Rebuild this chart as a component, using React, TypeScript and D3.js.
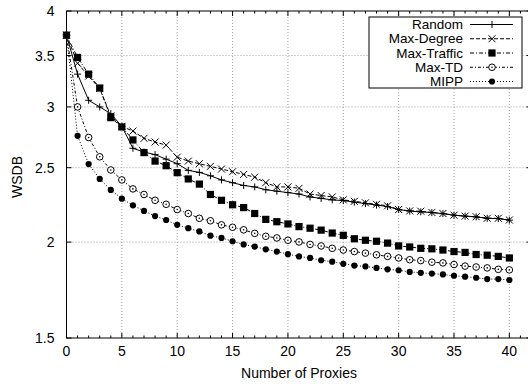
import React from "react";
import * as d3 from "d3";

const proxies = [0,1,2,3,4,5,6,7,8,9,10,11,12,13,14,15,16,17,18,19,20,21,22,23,24,25,26,27,28,29,30,31,32,33,34,35,36,37,38,39,40];

const random = [3.72, 3.31, 3.06, 3.00, 2.94, 2.83, 2.65, 2.62, 2.60, 2.565, 2.53, 2.48, 2.465, 2.44, 2.41, 2.39, 2.37, 2.36, 2.34, 2.33, 2.32, 2.31, 2.29, 2.28, 2.27, 2.265, 2.255, 2.245, 2.235, 2.225, 2.205, 2.195, 2.19, 2.185, 2.178, 2.168, 2.162, 2.157, 2.148, 2.146, 2.136];
const maxDegree = [3.72, 3.42, 3.29, 3.17, 2.92, 2.83, 2.79, 2.73, 2.70, 2.675, 2.58, 2.55, 2.53, 2.51, 2.49, 2.47, 2.45, 2.43, 2.39, 2.36, 2.36, 2.35, 2.31, 2.30, 2.29, 2.27, 2.26, 2.25, 2.24, 2.23, 2.205, 2.196, 2.194, 2.186, 2.179, 2.168, 2.162, 2.158, 2.148, 2.148, 2.137];
const maxTraffic = [3.72, 3.48, 3.31, 3.175, 2.905, 2.825, 2.717, 2.616, 2.55, 2.515, 2.463, 2.417, 2.38, 2.307, 2.267, 2.237, 2.218, 2.179, 2.141, 2.126, 2.112, 2.095, 2.085, 2.073, 2.055, 2.041, 2.02, 2.011, 2.005, 1.994, 1.977, 1.971, 1.963, 1.960, 1.953, 1.944, 1.939, 1.927, 1.923, 1.916, 1.907];
const maxTD = [3.72, 3.00, 2.737, 2.583, 2.483, 2.41, 2.346, 2.307, 2.267, 2.24, 2.205, 2.179, 2.148, 2.132, 2.106, 2.091, 2.075, 2.053, 2.035, 2.025, 2.011, 2.001, 1.986, 1.977, 1.963, 1.953, 1.944, 1.935, 1.925, 1.916, 1.907, 1.897, 1.892, 1.883, 1.879, 1.870, 1.861, 1.856, 1.851, 1.843, 1.840];
const mipp = [3.72, 2.751, 2.527, 2.417, 2.339, 2.278, 2.233, 2.196, 2.162, 2.137, 2.106, 2.085, 2.065, 2.039, 2.025, 2.005, 1.986, 1.973, 1.957, 1.944, 1.929, 1.916, 1.907, 1.894, 1.886, 1.874, 1.864, 1.859, 1.851, 1.843, 1.838, 1.829, 1.824, 1.820, 1.815, 1.808, 1.803, 1.797, 1.790, 1.790, 1.785];

const seriesNames = ["Random", "Max-Degree", "Max-Traffic", "Max-TD", "MIPP"];
const seriesValues = [random, maxDegree, maxTraffic, maxTD, mipp];
const xTicks = [0, 5, 10, 15, 20, 25, 30, 35, 40];
const yTicks = [1.5, 2, 2.5, 3, 3.5, 4];
const xLabel = "Number of Proxies";
const yLabel = "WSDB";

const dashes = ["none", "4,2", "4,2,1,2", "3,2,1,2", "1,2"];
const markerTypes = ["plus", "cross", "square", "circleOpen", "circleFilled"];

const W = 528, H = 386;
const left = 66.5, right = 531.5, top = 11, bottom = 338;
const FONT = "'Liberation Sans', Arial, Helvetica, sans-serif";

function Marker({ type, cx, cy }: { type: string; cx: number; cy: number }) {
  const s = 3.5;
  switch (type) {
    case "plus":
      return <path d={`M${cx - s},${cy}H${cx + s}M${cx},${cy - s}V${cy + s}`} stroke="#000" strokeWidth={1} fill="none" />;
    case "cross":
      return <path d={`M${cx - s},${cy - s}L${cx + s},${cy + s}M${cx - s},${cy + s}L${cx + s},${cy - s}`} stroke="#000" strokeWidth={1} fill="none" />;
    case "square":
      return <rect x={cx - 3.6} y={cy - 3.6} width={7.2} height={7.2} fill="#000" />;
    case "circleOpen":
      return (
        <g>
          <circle cx={cx} cy={cy} r={3.3} fill="#fff" stroke="#000" strokeWidth={1} />
          <circle cx={cx} cy={cy} r={0.8} fill="#000" />
        </g>
      );
    default:
      return <circle cx={cx} cy={cy} r={3.1} fill="#000" />;
  }
}

export default function App() {
  const x = d3.scaleLinear().domain([0, 42]).range([left, right]);
  const y = d3.scaleLog().domain([1.5, 4]).range([bottom, top]);
  const line = d3.line<number>().x((_, i) => x(proxies[i])).y((d) => y(d));
  const minorX = d3.range(0, 43, 1).filter((v) => v % 5 !== 0);

  const legX = 369, legY = 17, legW = 153, legH = 71;
  const rowH = 14.25;

  return (
    <svg width={W} height={H} style={{ position: "absolute", left: 0, top: 0, background: "#fff" }} fontFamily={FONT}>
      <rect x={0} y={0} width={W} height={H} fill="#fff" />
      <g stroke="#8a8a8a" strokeWidth={0.8} strokeDasharray="1,2">
        {xTicks.filter((t) => t > 0).map((t) => (
          <line key={"gx" + t} x1={x(t)} x2={x(t)} y1={top} y2={bottom} />
        ))}
        {yTicks.filter((t) => t > 1.5 && t < 4).map((t) => (
          <line key={"gy" + t} x1={left} x2={right} y1={y(t)} y2={y(t)} />
        ))}
      </g>
      <g stroke="#000" strokeWidth={1}>
        {xTicks.map((t) => (
          <g key={"tx" + t}>
            <line x1={x(t)} x2={x(t)} y1={bottom} y2={bottom - 5} />
            <line x1={x(t)} x2={x(t)} y1={top} y2={top + 5} />
          </g>
        ))}
        {minorX.map((t) => (
          <g key={"mx" + t}>
            <line x1={x(t)} x2={x(t)} y1={bottom} y2={bottom - 2.5} />
            <line x1={x(t)} x2={x(t)} y1={top} y2={top + 2.5} />
          </g>
        ))}
        {yTicks.map((t) => (
          <g key={"ty" + t}>
            <line x1={left} x2={left + 5} y1={y(t)} y2={y(t)} />
            <line x1={right} x2={right - 5} y1={y(t)} y2={y(t)} />
          </g>
        ))}
      </g>
      <rect x={left} y={top} width={right - left} height={bottom - top} fill="none" stroke="#000" strokeWidth={1} />
      <g fontSize={14} fill="#000">
        {xTicks.map((t) => (
          <text key={"lx" + t} x={x(t)} y={bottom + 18} textAnchor="middle">{t}</text>
        ))}
        {yTicks.map((t) => (
          <text key={"ly" + t} x={left - 12} y={y(t) + 5} textAnchor="end">{t}</text>
        ))}
      </g>
      <text x={(left + right) / 2} y={378} fontSize={14} textAnchor="middle">{xLabel}</text>
      <text transform={`translate(22,177) rotate(-90)`} fontSize={14} textAnchor="middle">{yLabel}</text>
      {seriesValues.map((vals, si) => (
        <g key={"s" + si}>
          <path d={line(vals) || ""} fill="none" stroke="#000" strokeWidth={1} strokeDasharray={dashes[si]} />
          {vals.map((v, i) => (
            <Marker key={i} type={markerTypes[si]} cx={x(proxies[i])} cy={y(v)} />
          ))}
        </g>
      ))}
      <rect x={legX} y={legY} width={legW} height={legH} fill="#fff" stroke="#000" strokeWidth={1} />
      {seriesNames.map((name, si) => {
        const cy = legY + 7.5 + si * rowH;
        return (
          <g key={"lg" + si}>
            <text x={463} y={cy + 4.5} fontSize={13.5} textAnchor="end">{name}</text>
            <line x1={470} x2={513} y1={cy} y2={cy} stroke="#000" strokeWidth={1} strokeDasharray={dashes[si]} />
            <Marker type={markerTypes[si]} cx={492} cy={cy} />
          </g>
        );
      })}
    </svg>
  );
}
